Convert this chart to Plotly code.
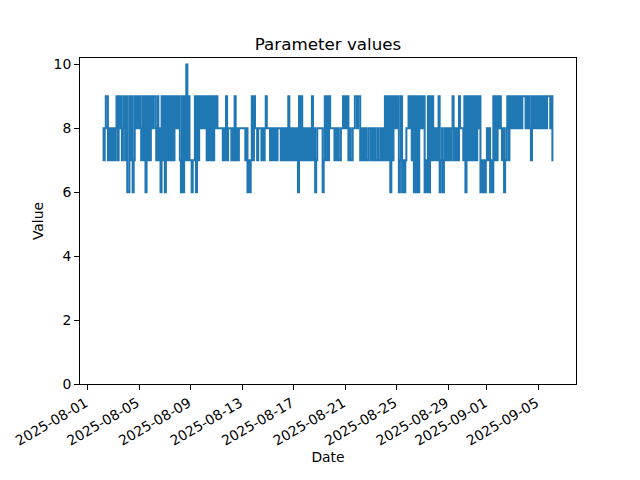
import plotly.graph_objects as go
import pandas as pd

# Values, one row per day (2-hour samples)
start_time = "2025-08-02 04:00"
day_values = [
    [8, 7, 8, 9, 9, 7, 8, 7, 8, 7, 8, 7],
    [8, 9, 7, 9, 8, 9, 7, 8, 9, 7, 9, 6],
    [6, 9, 7, 9, 6, 7, 9, 8, 9, 8, 9, 8],
    [7, 9, 7, 9, 6, 9, 7, 9, 7, 9, 8, 9],
    [9, 8, 7, 9, 7, 8, 6, 9, 7, 9, 6, 9],
    [7, 9, 7, 9, 7, 9, 7, 9, 8, 9, 8, 9],
    [7, 6, 9, 6, 9, 7, 10, 7, 9, 7, 7, 6],
    [7, 7, 9, 6, 9, 7, 9, 8, 9, 8, 9, 8],
    [9, 7, 9, 7, 9, 7, 9, 7, 9, 8, 9, 8],
    [8, 8, 8, 8, 7, 8, 7, 9, 7, 8, 8, 8],
    [7, 8, 7, 9, 7, 8, 7, 8, 8, 8, 8, 8],
    [8, 7, 8, 6, 7, 6, 7, 9, 7, 9, 8, 8],
    [7, 8, 8, 8, 7, 8, 7, 8, 9, 8, 8, 8],
    [7, 8, 7, 8, 7, 8, 7, 8, 8, 8, 7, 8],
    [7, 8, 7, 8, 7, 9, 7, 8, 7, 8, 7, 8],
    [7, 8, 6, 9, 7, 9, 7, 8, 7, 8, 7, 8],
    [7, 8, 7, 9, 7, 8, 6, 7, 8, 8, 8, 8],
    [8, 6, 7, 9, 7, 9, 7, 9, 8, 8, 8, 8],
    [7, 8, 7, 8, 7, 7, 8, 8, 9, 8, 9, 8],
    [9, 7, 8, 7, 7, 8, 8, 9, 9, 8, 9, 9],
    [7, 8, 7, 8, 7, 8, 7, 7, 8, 8, 7, 8],
    [7, 8, 7, 7, 8, 7, 7, 8, 7, 8, 7, 9],
    [7, 9, 7, 9, 6, 9, 7, 9, 8, 9, 8, 9],
    [6, 7, 9, 6, 7, 6, 7, 8, 8, 9, 8, 9],
    [7, 9, 6, 9, 6, 9, 6, 9, 8, 9, 8, 9],
    [6, 7, 6, 9, 6, 9, 7, 9, 7, 8, 7, 8],
    [7, 9, 6, 7, 8, 6, 7, 8, 7, 8, 7, 8],
    [7, 8, 9, 7, 8, 7, 8, 7, 9, 8, 8, 8],
    [7, 9, 6, 9, 7, 9, 7, 9, 7, 9, 7, 9],
    [7, 9, 8, 9, 6, 7, 6, 7, 6, 7, 8, 7],
    [8, 6, 7, 6, 9, 7, 9, 7, 9, 8, 9, 8],
    [7, 8, 6, 7, 8, 9, 7, 9, 8, 9, 8, 9],
    [8, 9, 8, 9, 8, 9, 8, 9, 9, 9, 8, 9],
    [8, 9, 8, 7, 9, 8, 9, 8, 9, 8, 9, 8],
    [9, 8, 9, 8, 9, 8, 9, 9, 9, 8, 9, 7],
    [7],
]
tick_dates = ["2025-08-01", "2025-08-05", "2025-08-09", "2025-08-13", "2025-08-17",
              "2025-08-21", "2025-08-25", "2025-08-29", "2025-09-01", "2025-09-05"]
y_ticks = [0, 2, 4, 6, 8, 10]

values = [v for day in day_values for v in day]
dates = pd.date_range(start=start_time, periods=len(values), freq="2h")

span = dates[-1] - dates[0]
x_range = [dates[0] - 0.05 * span, dates[-1] + 0.05 * span]

fig = go.Figure()
fig.add_trace(go.Scatter(
    x=dates, y=values, mode="lines",
    line=dict(color="#1f77b4", width=2.0, shape="hv"),
    showlegend=False,
))

font_family = "DejaVu Sans"
# The page body adds an 8px offset, so the figure is 632x472 with margins reduced accordingly
fig.update_layout(
    width=632, height=472,
    margin=dict(l=72, r=64, t=49.6, b=96, pad=0, autoexpand=False),
    paper_bgcolor="white", plot_bgcolor="white",
    font=dict(family=font_family, size=13.9, color="black"),
    title=dict(text="Parameter values", x=0.5, xref="paper", xanchor="center",
               y=1 - 41.5 / 472, yref="container", yanchor="bottom",
               font=dict(size=16.7, family=font_family, color="black")),
)
fig.update_xaxes(
    range=x_range, tickmode="array", tickvals=pd.to_datetime(tick_dates),
    ticktext=tick_dates, tickangle=-30, automargin=False, ticklabelshift=-2,
    showline=True, linecolor="black", linewidth=1.1, mirror=True,
    ticks="outside", ticklen=4.9, tickwidth=1.1, tickcolor="black",
    showgrid=False, zeroline=False,
    title=dict(text="Date", font=dict(size=13.9), standoff=4),
)
fig.update_yaxes(
    range=[0, 10.2], tickmode="array", tickvals=y_ticks, automargin=False,
    showline=True, linecolor="black", linewidth=1.1, mirror=True,
    ticks="outside", ticklen=4.9, tickwidth=1.1, tickcolor="black",
    showgrid=False, zeroline=False,
    title=dict(text="Value", font=dict(size=13.9), standoff=6),
)

fig.write_html("out.html")
